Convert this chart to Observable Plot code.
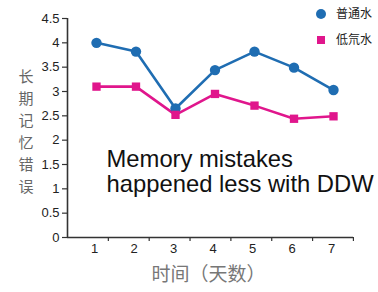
<!DOCTYPE html>
<html>
<head>
<meta charset="utf-8">
<script src="https://cdn.jsdelivr.net/npm/d3@7"></script>
<script src="https://cdn.jsdelivr.net/npm/@observablehq/plot@0.6"></script>
<style>
  html, body { margin: 0; padding: 0; background: #fff; }
  #chart svg { display: block; }
</style>
</head>
<body>
<div id="chart"></div>
<script>
// ---- data ----
const days = [1, 2, 3, 4, 5, 6, 7];
const normalWater = [4.0, 3.82, 2.65, 3.44, 3.82, 3.49, 3.03];
const ddWater = [3.1, 3.1, 2.52, 2.95, 2.71, 2.44, 2.49];
const seriesNames = ["普通水", "低氘水"];
const yTicks = [0, 0.5, 1, 1.5, 2, 2.5, 3, 3.5, 4, 4.5];
const yLabel = "长期记忆错误";
const xLabel = "时间（天数）";
const annotation = "Memory mistakes\nhappened less with DDW";

const blue = "#1f6db2";
const pink = "#e0168c";
const font = "'Liberation Sans', Arial, 'Noto Sans CJK SC', sans-serif";
const cjk = "'Noto Sans CJK SC', sans-serif";

const rows = [];
days.forEach((d, i) => {
  rows.push({day: d, value: normalWater[i], series: seriesNames[0]});
  rows.push({day: d, value: ddWater[i], series: seriesNames[1]});
});
const blueRows = rows.filter(r => r.series === seriesNames[0]);
const pinkRows = rows.filter(r => r.series === seriesNames[1]);
const boundaries = days.map(d => d + 0.3 + (d - 1) * 0.034);

const chart = Plot.plot({
  width: 378,
  height: 292,
  marginLeft: 67,
  marginRight: 25,
  marginTop: 18,
  marginBottom: 55,
  style: {background: "#fff", fontFamily: font, color: "#222"},
  x: {domain: [0.266, 7.506], axis: null},
  y: {domain: [0, 4.5], axis: null},
  marks: [
    Plot.axisY({ticks: yTicks, tickFormat: d => String(d), tickSize: 5, tickPadding: 3, label: null,
      fontSize: 13, stroke: "#333", fill: "#222", strokeWidth: 1.2}),
    Plot.axisX({ticks: boundaries, tickFormat: () => "", tickSize: 4, label: null, stroke: "#333", strokeWidth: 1.2}),
    Plot.ruleX([0.266], {stroke: "#333", strokeWidth: 1.6}),
    Plot.ruleY([0], {stroke: "#333", strokeWidth: 1.6}),
    Plot.text(days, {x: d => d, frameAnchor: "bottom", dy: 15, dx: -2, text: d => String(d),
      fontSize: 13, fill: "#222"}),
    Plot.line(blueRows, {x: "day", y: "value", stroke: blue, strokeWidth: 2.6}),
    Plot.line(pinkRows, {x: "day", y: "value", stroke: pink, strokeWidth: 2.6}),
    Plot.dot(blueRows, {x: "day", y: "value", fill: blue, r: 5.2, symbol: "circle"}),
    Plot.dot(pinkRows, {x: "day", y: "value", fill: pink, r: 4.7, symbol: "square"}),
    Plot.text([yLabel], {text: d => d.split("").join("\n"), frameAnchor: "left", dx: -49, dy: 2,
      fontSize: 15, lineHeight: 1.47, fill: "#666", fontFamily: cjk}),
    Plot.text([xLabel], {frameAnchor: "bottom", dy: 43, dx: -2, fontSize: 19, fill: "#777", fontFamily: cjk}),
    Plot.text([annotation], {frameAnchor: "top-left", dx: 39, dy: 131, textAnchor: "start",
      lineAnchor: "top", fontSize: 23.8, lineHeight: 25 / 23.8, fill: "#111", fontFamily: font})
  ]
});

// legend drawn into the svg
const svg = d3.select(chart);
const legend = svg.append("g").attr("font-family", cjk).attr("font-size", 12)
  .attr("fill", "#222").attr("text-anchor", "start");
const items = [
  {name: seriesNames[0], color: blue, sym: d3.symbolCircle, y: 14},
  {name: seriesNames[1], color: pink, sym: d3.symbolSquare, y: 40}
];
items.forEach(it => {
  legend.append("path")
    .attr("transform", `translate(321,${it.y})`)
    .attr("d", d3.symbol(it.sym, it.sym === d3.symbolCircle ? 78 : 64)())
    .attr("fill", it.color);
  legend.append("text")
    .attr("x", 336).attr("y", it.y).attr("dy", "0.35em")
    .text(it.name);
});

document.getElementById("chart").appendChild(chart);
</script>
</body>
</html>
